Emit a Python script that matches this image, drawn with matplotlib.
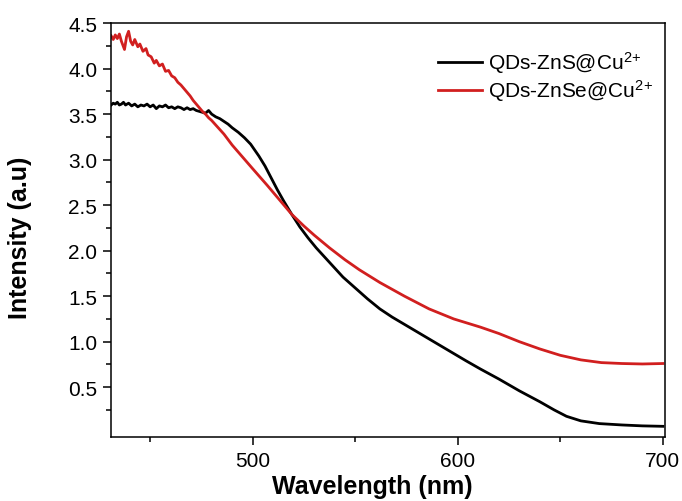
import numpy as np
import matplotlib
matplotlib.use('Agg')
import matplotlib.pyplot as plt
from matplotlib.ticker import FixedLocator

plt.rcParams['font.family'] = ['Liberation Sans', 'DejaVu Sans']
plt.rcParams['mathtext.default'] = 'regular'

# QDs-ZnS@Cu2+ (black)
wl_zns = [431, 432, 433, 434, 435, 436, 437, 438, 439.5, 441, 442.5, 444, 445.5, 447, 448.5,
          450, 451.5, 453, 454.5, 456, 457.5, 459, 460.5, 462, 463.5, 465, 466.5, 468, 469.5,
          471, 472.5, 474, 475.5, 477, 478.5, 480, 482, 484, 486, 488, 490, 493, 496, 499,
          503, 506, 509, 512, 515, 519, 523, 527, 531, 537.5, 544, 550, 556, 562, 568, 574,
          580, 586, 592, 598, 604, 611, 620, 630, 640, 647, 653, 660, 669, 680, 690, 700]
int_zns = [3.60, 3.62, 3.61, 3.63, 3.60, 3.61, 3.63, 3.60, 3.62, 3.59, 3.61, 3.58, 3.60, 3.59, 3.61,
           3.58, 3.60, 3.56, 3.59, 3.58, 3.60, 3.57, 3.58, 3.56, 3.58, 3.57, 3.55, 3.57, 3.55,
           3.56, 3.54, 3.53, 3.52, 3.51, 3.54, 3.50, 3.47, 3.45, 3.42, 3.39, 3.35, 3.30, 3.24, 3.17,
           3.04, 2.93, 2.80, 2.67, 2.55, 2.40, 2.26, 2.14, 2.03, 1.87, 1.71, 1.59, 1.47, 1.36, 1.27, 1.19,
           1.11, 1.03, 0.95, 0.87, 0.79, 0.70, 0.59, 0.46, 0.34, 0.25, 0.18, 0.13, 0.10, 0.085, 0.075, 0.07]

# QDs-ZnSe@Cu2+ (red)
wl_znse = [431, 432, 433, 434, 435, 436, 437.5, 438.5, 439.5, 440.5, 441.5, 442.5, 444, 445, 446.5,
           448, 449, 450.5, 452, 453, 454.5, 456, 457.5, 459, 460.5, 462, 463.5, 465, 466.5, 468,
           469.5, 471, 472.5, 474, 475.5, 477, 478.5, 480, 482, 484, 486, 488, 490, 495, 500, 507,
           513, 519, 525, 530, 537.5, 545, 552, 562, 574, 586, 598, 611, 620, 630, 640, 650, 660,
           670, 680, 690, 700]
int_znse = [4.36, 4.32, 4.37, 4.33, 4.38, 4.30, 4.21, 4.35, 4.41, 4.30, 4.26, 4.32, 4.24, 4.27, 4.19,
            4.22, 4.15, 4.13, 4.06, 4.09, 4.03, 4.05, 3.97, 3.98, 3.92, 3.90, 3.85, 3.82, 3.78, 3.74,
            3.70, 3.65, 3.61, 3.57, 3.53, 3.50, 3.46, 3.43, 3.38, 3.33, 3.28, 3.22, 3.16, 3.03, 2.90, 2.72,
            2.56, 2.40, 2.27, 2.17, 2.03, 1.90, 1.79, 1.65, 1.50, 1.36, 1.25, 1.16, 1.09, 1.00, 0.92, 0.85, 0.80,
            0.77, 0.76, 0.755, 0.76]

fig = plt.figure(figsize=(6.82, 5.02), dpi=100)
ax = fig.add_axes([0.163, 0.127, 0.812, 0.825])

ax.plot(wl_zns, int_zns, color='black', lw=2.0, label=r'QDs-ZnS@Cu$^{2\!+}$')
ax.plot(wl_znse, int_znse, color='#d11f1f', lw=2.0, label=r'QDs-ZnSe@Cu$^{2\!+}$')

ax.set_xlim(431, 701)
ax.set_ylim(-0.05, 4.5)
ax.xaxis.set_major_locator(FixedLocator([500, 600, 700]))
ax.xaxis.set_minor_locator(FixedLocator([450, 550, 650]))
ax.yaxis.set_major_locator(FixedLocator(np.arange(0.5, 4.51, 0.5)))
ax.yaxis.set_minor_locator(FixedLocator(np.arange(0.25, 4.3, 0.5)))
ax.yaxis.set_major_formatter(plt.FormatStrFormatter('%.1f'))

ax.tick_params(which='major', direction='out', length=6, width=1.1, labelsize=15, pad=4)
ax.tick_params(which='minor', direction='out', length=3.5, width=1.1)
for s in ax.spines.values():
    s.set_linewidth(1.1)

ax.set_xlabel('Wavelength (nm)', fontsize=18, fontweight='bold')
ax.set_ylabel('Intensity (a.u)', fontsize=18, fontweight='bold')
ax.xaxis.set_label_coords(0.472, -0.088)
ax.yaxis.set_label_coords(-0.143, 0.484)

ax.legend(loc='upper right', frameon=False, fontsize=15, handlelength=2.1,
          handletextpad=0.3, labelspacing=0.1, bbox_to_anchor=(1.013, 0.982))

fig.savefig('out.png', dpi=100)
